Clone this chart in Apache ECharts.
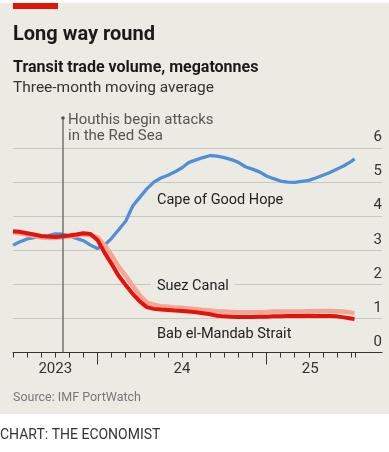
<!DOCTYPE html>
<html><head><meta charset="utf-8">
<script src="https://cdn.jsdelivr.net/npm/echarts@6/dist/echarts.min.js"></script>
<style>html,body{margin:0;padding:0;background:#fff}#c{width:389px;height:452px}</style>
</head><body><div id="c"></div>
<script>
// months since 1 July 2023
const months = [0,0.5,1,1.5,2,2.5,3,3.5,4,4.5,5,5.5,6,6.5,7,7.5,8,8.5,9,9.5,10,10.5,11,11.5,12,12.5,13,13.5,14,14.5,15,15.5,16,16.5,17,17.5,18,18.5,19,19.5,20,20.5,21,21.5,22,22.5,23,23.5,24,24.25];
const cape = [3.15,3.25,3.33,3.37,3.40,3.43,3.48,3.47,3.42,3.35,3.28,3.15,3.05,3.15,3.35,3.60,3.85,4.30,4.55,4.80,5.00,5.12,5.20,5.30,5.42,5.58,5.65,5.72,5.78,5.76,5.72,5.66,5.58,5.45,5.38,5.30,5.18,5.10,5.03,5.00,4.99,5.02,5.05,5.12,5.20,5.28,5.38,5.48,5.60,5.68];
const suez = [3.52,3.50,3.46,3.42,3.38,3.36,3.36,3.38,3.40,3.43,3.46,3.45,3.38,3.15,2.85,2.52,2.25,1.95,1.68,1.47,1.40,1.36,1.34,1.32,1.31,1.29,1.27,1.25,1.23,1.21,1.20,1.19,1.18,1.18,1.18,1.18,1.19,1.20,1.20,1.20,1.20,1.20,1.21,1.22,1.22,1.22,1.21,1.20,1.17,1.16];
const bab = [3.56,3.54,3.50,3.46,3.42,3.40,3.39,3.41,3.43,3.46,3.50,3.48,3.30,2.93,2.60,2.25,1.98,1.72,1.50,1.33,1.28,1.26,1.25,1.23,1.22,1.20,1.18,1.15,1.12,1.08,1.06,1.05,1.04,1.04,1.04,1.05,1.05,1.06,1.06,1.07,1.07,1.07,1.08,1.07,1.07,1.07,1.06,1.03,1.00,0.98];
const yearLabels = ['2023','24','25'];
const yearLabelMonths = [3, 12, 21.1];
const yearStartMonths = [6, 18];
const monthTicks = [0,1,2,3,4,5,6,7,8,9,10,11,12,13,14,15,16,17,18,19,20,21,22,23,24,24.3];
const houthiMonth = 3.55;
const houthiTop = 6.88;

const FONT = 'Roboto, sans-serif';
const BG = '#ECEBE3';
const pair = (arr) => arr.map((v, i) => [months[i], v]);

const chart = echarts.init(document.getElementById('c'), null, {renderer: 'canvas'});
chart.setOption({
  animation: false,
  backgroundColor: BG,
  grid: {left: 13, right: 7, top: 148, bottom: 99.5, containLabel: false},
  xAxis: [{
    type: 'value', min: 0, max: 26.2, position: 'bottom', offset: 0,
    axisLine: {show: true, lineStyle: {color: '#333', width: 1}},
    axisTick: {show: true, customValues: monthTicks, length: 5, lineStyle: {color: '#333', width: 1}},
    axisLabel: {show: true, customValues: yearLabelMonths, margin: 9, color: '#333', fontSize: 15, fontFamily: FONT,
      formatter: (v) => { const i = yearLabelMonths.indexOf(v); return i >= 0 ? yearLabels[i] : ''; }},
    splitLine: {show: false}
  }, {
    type: 'value', min: 0, max: 26.2, position: 'bottom', offset: 0,
    axisLine: {show: false},
    axisTick: {show: true, customValues: yearStartMonths, length: 12, lineStyle: {color: '#333', width: 1}},
    axisLabel: {show: false},
    splitLine: {show: false}
  }],
  yAxis: {
    type: 'value', min: 0, max: 6, interval: 1, position: 'right',
    axisLine: {show: false}, axisTick: {show: false},
    axisLabel: {inside: true, margin: 0, verticalAlign: 'bottom', padding: [0, 0, 3, 0], color: '#333', fontSize: 15, fontFamily: FONT},
    splitLine: {show: true, lineStyle: {color: '#C9C8C0', width: 1}}
  },
  series: [
    {type: 'line', name: 'Cape of Good Hope', data: pair(cape), showSymbol: false, symbol: 'none',
      lineStyle: {color: '#4F8FD6', width: 3.3}, z: 3},
    {type: 'line', name: 'Suez Canal', data: pair(suez), showSymbol: false, symbol: 'none',
      lineStyle: {color: '#F4A593', width: 4.5}, z: 4},
    {type: 'line', name: 'Bab el-Mandab Strait', data: pair(bab), showSymbol: false, symbol: 'none',
      lineStyle: {color: '#E3120B', width: 4}, z: 5},
    {type: 'custom', data: [[houthiMonth, houthiTop]], z: 6, silent: true,
      renderItem: (params, api) => {
        const p0 = api.coord([api.value(0), 0]);
        const p1 = api.coord([api.value(0), api.value(1)]);
        return {type: 'group', children: [
          {type: 'line', shape: {x1: p0[0], y1: p0[1], x2: p1[0], y2: p1[1]}, style: {stroke: '#555', lineWidth: 1.2}},
          {type: 'circle', shape: {cx: p1[0], cy: p1[1], r: 1.8}, style: {fill: '#555'}},
          {type: 'text', x: p1[0] + 5, y: p1[1] - 6.5, style: {text: 'Houthis begin attacks\nin the Red Sea', fill: '#555', font: '15px ' + FONT, lineHeight: 16.5, verticalAlign: 'top', align: 'left'}}
        ]};
      }}
  ],
  graphic: [
    {type: 'rect', shape: {x: 0, y: 0, width: 389, height: 3}, style: {fill: '#fff'}},
    {type: 'rect', shape: {x: 0, y: 414, width: 389, height: 38}, style: {fill: '#fff'}},
    {type: 'rect', shape: {x: 13, y: 3, width: 45, height: 6}, style: {fill: '#E3120B'}},
    {type: 'text', x: 13, y: 35, style: {text: 'Long way round', font: 'bold 20px ' + FONT, fill: '#1a1a1a', verticalAlign: 'middle'}},
    {type: 'text', x: 13, y: 68, style: {text: 'Transit trade volume, megatonnes', font: 'bold 16px ' + FONT, fill: '#1a1a1a', verticalAlign: 'middle'}},
    {type: 'text', x: 13, y: 88, style: {text: 'Three-month moving average', font: '15.5px ' + FONT, fill: '#333', verticalAlign: 'middle'}},
    {type: 'text', x: 157, y: 200, z: 10, style: {text: 'Cape of Good Hope', font: '14.5px ' + FONT, fill: '#222', verticalAlign: 'middle'}},
    {type: 'text', x: 151, y: 286, z: 10, style: {text: 'Suez Canal', font: '14.5px ' + FONT, fill: '#222', verticalAlign: 'middle', backgroundColor: BG, padding: [0, 6]}},
    {type: 'text', x: 157, y: 334, z: 10, style: {text: 'Bab el-Mandab Strait', font: '14.5px ' + FONT, fill: '#222', verticalAlign: 'middle'}},
    {type: 'text', x: 13, y: 398, style: {text: 'Source: IMF PortWatch', font: '12.5px ' + FONT, fill: '#777', verticalAlign: 'middle'}},
    {type: 'text', x: 0, y: 435, style: {text: 'CHART: THE ECONOMIST', font: '14px ' + FONT, fill: '#333', verticalAlign: 'middle'}}
  ]
});
</script></body></html>
